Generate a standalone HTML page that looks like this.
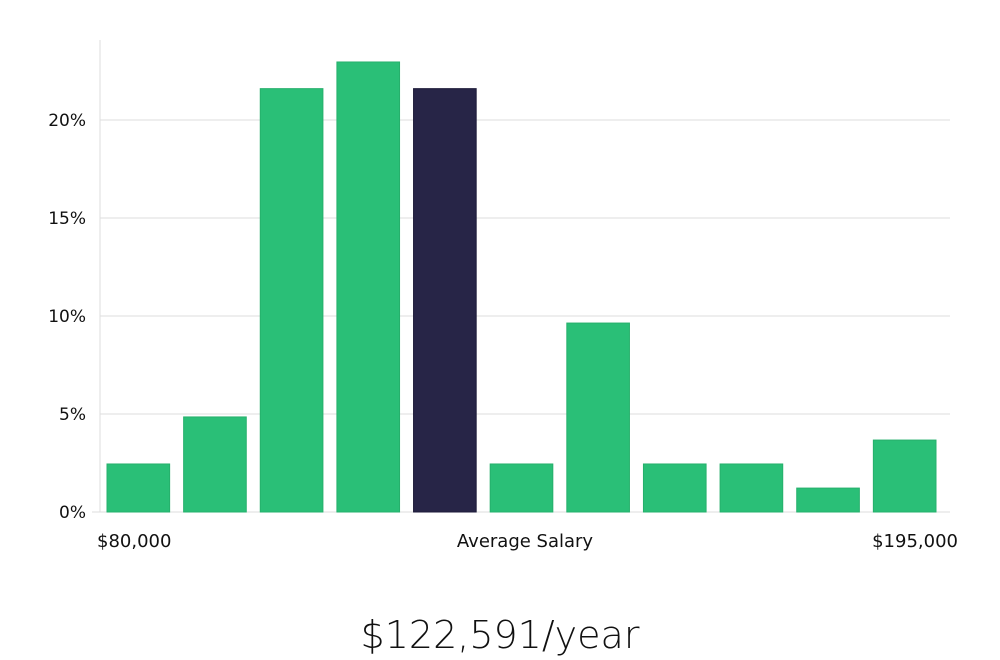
<!DOCTYPE html>
<html><head><meta charset="utf-8"><style>
body{margin:0;background:#fff;width:1000px;height:660px;overflow:hidden;font-family:"DejaVu Sans","Liberation Sans",sans-serif}
svg{display:block}
</style></head><body>
<svg id="chart" width="1000" height="660" xmlns="http://www.w3.org/2000/svg"></svg>
<script>
const values=[2.45,4.85,21.6,22.96,21.6,2.45,9.64,2.45,2.45,1.22,3.67];
const highlight=[false,false,false,false,true,false,false,false,false,false,false];
const yTicks=[0,5,10,15,20];
const yTickLabels=["0%","5%","10%","15%","20%"];
const xLabels=["$80,000","Average Salary","$195,000"];
const title="$122,591/year";
const NS="http://www.w3.org/2000/svg";
const svg=document.getElementById('chart');
const x0=100,x1=950,y0=512,pxPerPct=19.6;
const y=v=>y0-v*pxPerPct;
const step=(x1-x0-7)/values.length;
function el(t,a){const e=document.createElementNS(NS,t);for(const k in a)e.setAttribute(k,a[k]);svg.appendChild(e);return e;}
yTicks.forEach((t,i)=>{
  const g=el('line',{x1:t===0?92:x0,x2:x1,y1:y(t),y2:y(t),stroke:'#dddddd','stroke-width':1});
  
  
  const tx=el('text',{x:86,y:y(t)+6,'text-anchor':'end','font-size':17,fill:'#111'});
  tx.textContent=yTickLabels[i];
  
  
});
const ax=el('line',{x1:x0,x2:x0,y1:40,y2:y0,stroke:'#dddddd','stroke-width':1});


values.forEach((v,i)=>{
  const bx=x0+7+i*step;
  const r=el('rect',{x:bx,y:y(v),width:step-14,height:v*pxPerPct,fill:highlight[i]?'#272547':'#2abf77',stroke:highlight[i]?'#1c1a38':'#26b06c','stroke-width':1});
  
  
});
[[97,'start'],[525,'middle'],[958,'end']].forEach((p,i)=>{
  const t=el('text',{x:p[0],y:547,'text-anchor':p[1],'font-size':18,fill:'#111'});
  t.textContent=xLabels[i];
  
  
});
const tt=el('text',{x:500,y:648,'text-anchor':'middle','font-size':38,fill:'#111','font-weight':300});
tt.textContent=title;


</script>
</body></html>
